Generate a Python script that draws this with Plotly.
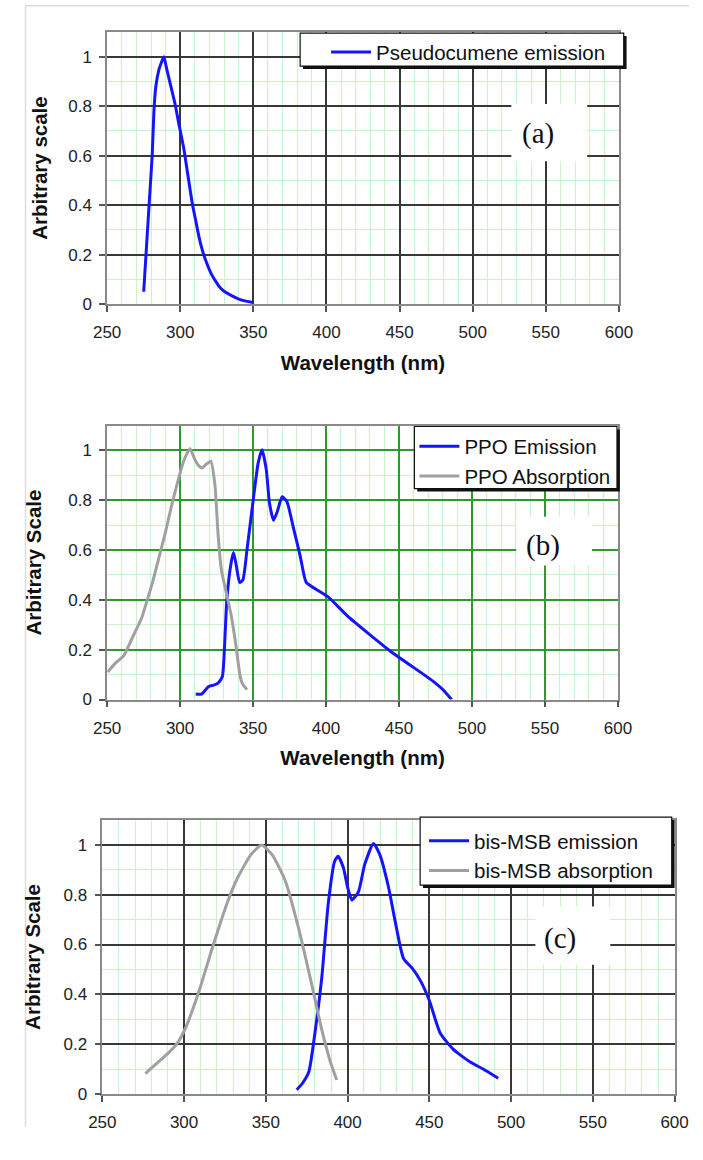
import plotly.graph_objects as go

W, H = 703, 1160

# ---------------- data ----------------
# (a) Pseudocumene emission
wl_pc = [275, 277, 279, 280.8, 282, 283.3, 285.5, 287, 288.8, 290.2, 292, 294, 296.4,
         299, 302.4, 305, 308.3, 310.5, 312.7, 315, 317.2, 319.5, 321.6, 324.5, 327.5,
         330.5, 333.4, 336.5, 339.3, 344, 350]
em_pc = [0.05, 0.24, 0.43, 0.60, 0.78, 0.88, 0.95, 0.975, 1.0, 0.965, 0.92, 0.87, 0.81,
         0.73, 0.63, 0.53, 0.405, 0.34, 0.275, 0.22, 0.18, 0.145, 0.118, 0.09, 0.065,
         0.05, 0.04, 0.03, 0.022, 0.013, 0.006]

# (b) PPO emission / absorption
wl_ppo_em = [310.7, 314.7, 319.5, 323, 326, 328.9, 330.5, 332, 334.9, 336.6, 338.6, 340.8,
             343, 345.8, 350.2, 353.5, 356.1, 359, 361.2, 364, 366.6, 369.9, 373.2, 377.6,
             382.4, 386.4, 393, 401.8, 414.8, 443.9, 473, 480, 486]
ppo_em = [0.022, 0.022, 0.052, 0.058, 0.066, 0.091, 0.22, 0.40, 0.547, 0.59, 0.534, 0.47,
          0.48, 0.60, 0.807, 0.95, 1.003, 0.925, 0.79, 0.72, 0.755, 0.814, 0.794, 0.69,
          0.573, 0.47, 0.443, 0.41, 0.335, 0.195, 0.075, 0.04, 0.0]

wl_ppo_abs = [250.4, 255.5, 261.4, 267, 273.5, 277, 281.1, 285.5, 289.9, 293, 296.5, 302,
              304.5, 306.8, 310, 312.5, 315.1, 318, 321, 323.9, 326, 328.3, 331.6, 334.9,
              338.2, 340.8, 342.5, 345.8]
ppo_abs = [0.11, 0.145, 0.176, 0.245, 0.325, 0.39, 0.47, 0.57, 0.67, 0.75, 0.833, 0.95,
           0.985, 1.007, 0.965, 0.94, 0.93, 0.945, 0.957, 0.86, 0.664, 0.52, 0.43, 0.34,
           0.22, 0.105, 0.066, 0.04]

# (c) bis-MSB emission / absorption
wl_msb_em = [368.9, 372.4, 376.3, 380.3, 384.2, 388.2, 392.1, 394.2, 397.4, 400, 402.6,
             406.6, 410.5, 415.8, 419.7, 425, 428.9, 434.2, 439.5, 444.7, 450, 456.6,
             464.5, 475, 482.9, 492.1]
msb_em = [0.017, 0.043, 0.089, 0.258, 0.466, 0.766, 0.935, 0.954, 0.909, 0.83, 0.779,
          0.811, 0.922, 1.006, 0.961, 0.831, 0.70, 0.544, 0.505, 0.453, 0.375, 0.245,
          0.18, 0.128, 0.10, 0.063]

wl_msb_abs = [276.3, 282.9, 290.8, 296.1, 301.3, 309.2, 317.1, 326.3, 332.9, 340.8, 347.4,
              353.9, 361.8, 369.7, 377.6, 384.2, 389.5, 393.4]
msb_abs = [0.082, 0.121, 0.167, 0.206, 0.271, 0.414, 0.583, 0.766, 0.87, 0.96, 1.0,
           0.96, 0.857, 0.674, 0.453, 0.258, 0.128, 0.056]

x_ticks = [250, 300, 350, 400, 450, 500, 550, 600]
y_ticks = [0, 0.2, 0.4, 0.6, 0.8, 1]
y_tick_text = ["0", "0.2", "0.4", "0.6", "0.8", "1"]

BLUE = "#1414ff"
GRAY = "#a0a0a0"
FONT = "Liberation Sans, Arial, sans-serif"


def px(x):
    return x / W


def py(y):
    return 1 - y / H


fig = go.Figure()

spline = dict(shape="spline", smoothing=0.55)

fig.add_trace(go.Scatter(x=wl_pc, y=em_pc, mode="lines", name="Pseudocumene emission",
                         line=dict(color=BLUE, width=3, **spline),
                         xaxis="x", yaxis="y", legend="legend"))
fig.add_trace(go.Scatter(x=wl_ppo_em, y=ppo_em, mode="lines", name="PPO Emission",
                         line=dict(color=BLUE, width=3, **spline),
                         xaxis="x2", yaxis="y2", legend="legend2"))
fig.add_trace(go.Scatter(x=wl_ppo_abs, y=ppo_abs, mode="lines", name="PPO Absorption",
                         line=dict(color=GRAY, width=3, **spline),
                         xaxis="x2", yaxis="y2", legend="legend2"))
fig.add_trace(go.Scatter(x=wl_msb_em, y=msb_em, mode="lines", name="bis-MSB emission",
                         line=dict(color=BLUE, width=3, **spline),
                         xaxis="x3", yaxis="y3", legend="legend3"))
fig.add_trace(go.Scatter(x=wl_msb_abs, y=msb_abs, mode="lines", name="bis-MSB absorption",
                         line=dict(color=GRAY, width=3, **spline),
                         xaxis="x3", yaxis="y3", legend="legend3"))

panels = {
    "1": dict(x=(97, 630), y=(33, 313), major="#383838", ytitle="Arbitrary scale",
              xtitle="Wavelength (nm)", ystand=15),
    "2": dict(x=(97, 629), y=(438, 720), major="#2e9a2e", ytitle="Arbitrary Scale",
              xtitle="Wavelength (nm)", ystand=21),
    "3": dict(x=(92, 688), y=(844, 1126), major="#383838", ytitle="Arbitrary Scale",
              xtitle=None, ystand=17),
}

layout_axes = {}
for k, p in panels.items():
    xname = "xaxis" if k == "1" else "xaxis" + k
    yname = "yaxis" if k == "1" else "yaxis" + k
    anchor_y = "y" if k == "1" else "y" + k
    anchor_x = "x" if k == "1" else "x" + k
    layout_axes[xname] = dict(
        domain=[px(p["x"][0]), px(p["x"][1])], anchor=anchor_y,
        range=[250, 600], tickvals=x_ticks, ticks="outside", ticklen=6, tickwidth=1.5,
        tickcolor="#555", showline=True, linecolor="#8a8a8a", linewidth=1.5, mirror=True,
        showgrid=True, gridcolor=p["major"], gridwidth=1.6, zeroline=False,
        minor=dict(dtick=10, tick0=250, showgrid=True, gridcolor="#c9f3c9", gridwidth=1,
                   ticks=""),
        tickfont=dict(family=FONT, size=17, color="#222"), ticklabelstandoff=6,
        title=dict(text=p["xtitle"] or "", font=dict(family=FONT, size=20.5, color="#111",
                                                      weight="bold"), standoff=14),
        fixedrange=True,
    )
    layout_axes[yname] = dict(
        domain=[py(p["y"][1]), py(p["y"][0])], anchor=anchor_x,
        range=[0, 1.1], tickvals=y_ticks, ticktext=y_tick_text, ticks="outside", ticklen=6,
        tickwidth=1.5, tickcolor="#555", showline=True, linecolor="#8a8a8a", linewidth=1.5,
        mirror=True, showgrid=True, gridcolor=p["major"], gridwidth=1.6, zeroline=False,
        minor=dict(dtick=0.1, tick0=0, showgrid=True, gridcolor="#c9f3c9", gridwidth=1,
                   ticks=""),
        tickfont=dict(family=FONT, size=17, color="#222"), ticklabelstandoff=4,
        title=dict(text=p["ytitle"], font=dict(family=FONT, size=20.5, color="#111",
                                               weight="bold"), standoff=p["ystand"]),
        fixedrange=True,
    )

shapes = []
# faint outer frame lines of the page
shapes.append(dict(type="line", xref="paper", yref="paper", x0=px(12), x1=1, y0=py(6),
                   y1=py(6), line=dict(color="#dcdcdc", width=1.5)))
shapes.append(dict(type="line", xref="paper", yref="paper", x0=px(12), x1=px(12), y0=py(6),
                   y1=0, line=dict(color="#dcdcdc", width=1.5)))

legend_boxes = [(298, 34, 635, 68), (417, 439, 628, 503), (423, 841, 685, 911)]
for (l, t, r, b) in legend_boxes:
    shapes.append(dict(type="rect", xref="paper", yref="paper", layer="above",
                       x0=px(l + 3), x1=px(r + 3), y0=py(b + 3), y1=py(t + 3),
                       fillcolor="#111", line=dict(width=0)))
    shapes.append(dict(type="rect", xref="paper", yref="paper", layer="above",
                       x0=px(l), x1=px(r), y0=py(b), y1=py(t),
                       fillcolor="white", line=dict(color="#111", width=1.2)))

label_boxes = [((518, 107, 597, 166), "(a)", (546, 137)),
               ((523, 532, 602, 582), "(b)", (551, 561)),
               ((543, 933, 621, 993), "(c)", (569, 966))]
annotations = []
for (l, t, r, b), txt, (cx, cy) in label_boxes:
    shapes.append(dict(type="rect", xref="paper", yref="paper", layer="above",
                       x0=px(l), x1=px(r), y0=py(b), y1=py(t),
                       fillcolor="white", line=dict(width=0)))
    annotations.append(dict(text=txt, xref="paper", yref="paper", x=px(cx), y=py(cy),
                            xanchor="center", yanchor="middle", showarrow=False,
                            font=dict(family="Liberation Serif, Times New Roman, serif",
                                      size=29, color="#111")))

leg_common = dict(bgcolor="rgba(0,0,0,0)", borderwidth=0, xanchor="left", yanchor="top",
                  font=dict(family=FONT, size=20.5, color="#111"), itemwidth=40,
                  tracegroupgap=0, traceorder="normal")

fig.update_layout(
    width=W, height=H, margin=dict(l=0, r=0, t=0, b=0),
    paper_bgcolor="white", plot_bgcolor="white", showlegend=True,
    legend=dict(x=px(325), y=py(33), **leg_common),
    legend2=dict(x=px(417), y=py(439), **leg_common),
    legend3=dict(x=px(427), y=py(845), **leg_common),
    shapes=shapes, annotations=annotations,
    **layout_axes,
)

fig.write_html("out.html")
